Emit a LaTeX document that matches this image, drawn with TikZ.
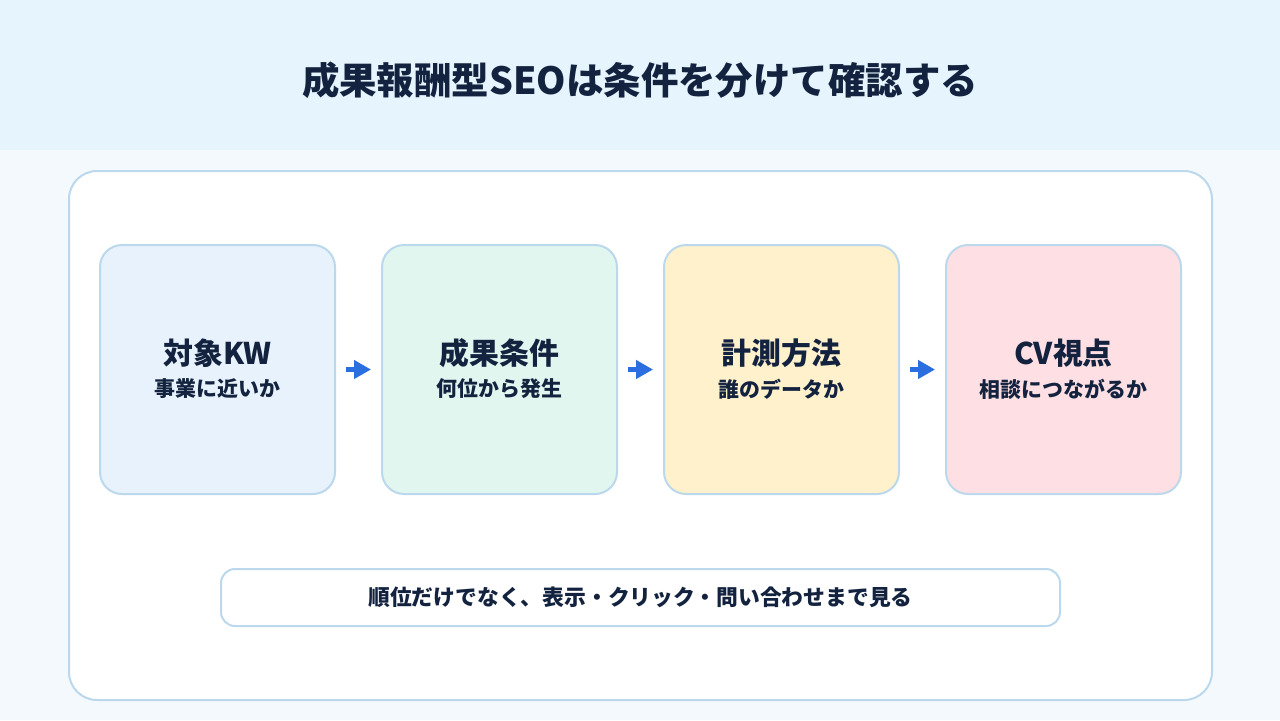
\documentclass[tikz,border=0pt]{standalone}
\usepackage{fontspec}
\setmainfont{Noto Sans CJK JP}
\usetikzlibrary{arrows.meta}
\definecolor{ink}{HTML}{13233F}
\definecolor{edge}{HTML}{BBD8EC}
\definecolor{band}{HTML}{E6F4FE}
\definecolor{paper}{HTML}{F4F9FD}
\definecolor{flowblue}{HTML}{2A6EDF}
\definecolor{kwblue}{HTML}{E8F2FD}
\definecolor{condgreen}{HTML}{E0F6EF}
\definecolor{measyellow}{HTML}{FEF1CC}
\definecolor{cvpink}{HTML}{FEE0E4}

\begin{document}
\begin{tikzpicture}[x=0.1mm,y=-0.1mm,
  card/.style={draw=edge,line width=0.2mm,rounded corners=2.2mm,
    minimum width=23.5mm,minimum height=24.9mm,inner sep=0pt},
  head/.style={text=ink,font=\bfseries\fontsize{8.5pt}{10pt}\selectfont,inner sep=0pt},
  sub/.style={text=ink,font=\bfseries\fontsize{5.95pt}{7pt}\selectfont,inner sep=0pt},
  flow/.style={draw=flowblue,line width=0.5mm,-{Triangle[length=1.7mm,width=1.8mm]},
    shorten <=1mm,shorten >=1mm}]
\useasboundingbox (0,0) rectangle (1280,720);
% background and title band
\fill[paper] (0,0) rectangle (1280,720);
\fill[band] (0,0) rectangle (1280,150);
\node[text=ink,font=\bfseries\fontsize{10.65pt}{12pt}\selectfont] (title) at (640,80)
  {成果報酬型SEOは条件を分けて確認する};
% main panel
\node[draw=edge,fill=white,line width=0.2mm,rounded corners=2.8mm,
  minimum width=114.3mm,minimum height=52.9mm] (panel) at (640.5,435.5) {};
% the four stages: index, x centre, fill, heading, question
\newcommand\stagebox[5]{%
  \node[card,fill=#3] (b#1) at (#2,369.5) {};
  \node[head] (b#1h) at (#2,353) {#4};
  \node[sub] (b#1s) at (#2,389) {#5};}
\stagebox{1}{217.5}{kwblue}{対象KW}{事業に近いか}
\stagebox{2}{499.5}{condgreen}{成果条件}{何位から発生}
\stagebox{3}{781.5}{measyellow}{計測方法}{誰のデータか}
\stagebox{4}{1063.5}{cvpink}{CV視点}{相談につながるか}
\foreach \a/\b in {1/2,2/3,3/4}
  \draw[flow] (b\a) -- (b\b);
% note along the bottom
\node[draw=edge,fill=white,line width=0.2mm,rounded corners=1.4mm,
  minimum width=83.9mm,minimum height=5.7mm,text=ink,
  font=\bfseries\fontsize{6.2pt}{7pt}\selectfont] (note) at (640.5,597.5)
  {順位だけでなく、表示・クリック・問い合わせまで見る};
\end{tikzpicture}
\end{document}
